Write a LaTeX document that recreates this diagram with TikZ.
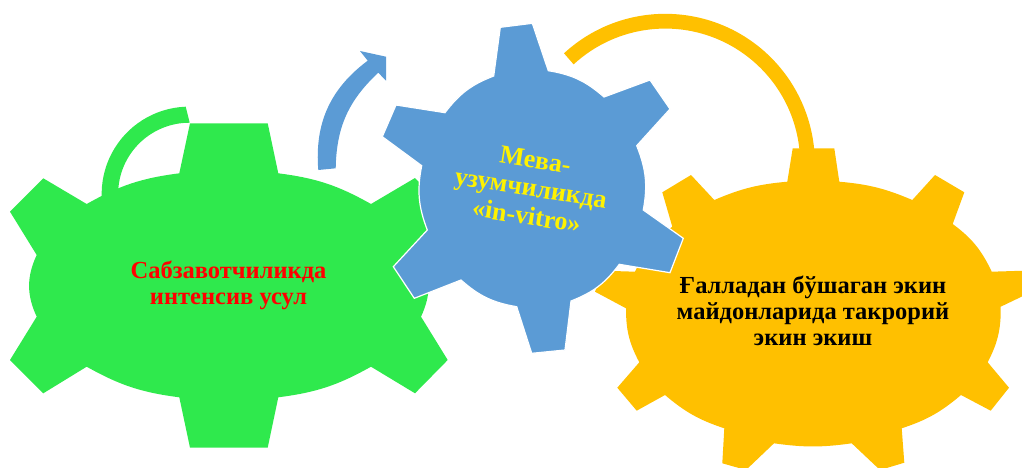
\documentclass[tikz,border=0pt]{standalone}
\usepackage{fontspec}
\setmainfont{Liberation Serif}
\usepackage{xcolor}

\definecolor{gearGreen}{RGB}{47,233,77}
\definecolor{gearBlue}{RGB}{91,155,213}
\definecolor{gearAmber}{RGB}{255,192,0}

\tikzset{
  greengear/.style={fill=gearGreen},
  bluegear/.style={fill=gearBlue, draw=white, line width=1.2pt, line join=miter},
  ambergear/.style={fill=gearAmber},
  geartext/.style={align=center, font=\fontsize{24.5}{26}\selectfont\bfseries},
  bluetext/.style={align=center, font=\fontsize{26}{28.5}\selectfont\bfseries}
}

\begin{document}
\begin{tikzpicture}[x=1pt,y=-1pt]

\clip (0,0) rectangle (1022,468);

% green gear with its arc
\fill[greengear] (185.7,106.7) arc[start angle=92.2, end angle=182.8, radius=87.4pt] -- (125,215) -- (118.3,189.3) arc[start angle=176.2, end angle=89.8, radius=71.3pt] -- cycle;

\fill[greengear] (179.3,173.3) -- (190,123.3) -- (267.7,123.3) -- (278.3,173.3)
  to[bend left=11] (371,204) -- (415,178) -- (447.7,212) -- (421,255)
  to[bend left=25] (421,316.7) -- (447.7,360) -- (415,393.3) -- (371,366.7)
  to[bend left=11] (278.3,397.3) -- (267.7,447.7) -- (190,447.7) -- (179.3,397.3)
  to[bend left=11] (86.7,366.7) -- (43.3,393.3) -- (10,360) -- (36.7,316.7)
  to[bend left=25] (36.7,255) -- (10,211.7) -- (43.3,178.3) -- (86.7,204)
  to[bend left=11] cycle;

\node[geartext, text=red] (greenlabel) at (228.5,285.5) {Сабзавотчиликда\\интенсив усул};

% amber gear with its arc
\fill[ambergear] (564,53.3) arc[start angle=132.6, end angle=5.8, radius=149.6pt] -- (814,155) -- (799.3,155) -- (799.3,148.3) arc[start angle=6.5, end angle=132.7, radius=135pt] -- cycle;

\fill[ambergear] (787.3,181.7) -- (792.7,148.3) -- (834.3,148.3) -- (839.3,181.7)
  to[bend left=9] (912.3,200) -- (935,175) -- (964.3,192.3) -- (952.7,224)
  to[bend left=14] (991.7,271.7) -- (1024,270.7) -- (1032,291.7) -- (1000.7,306.7)
  to[bend left=14] (987.7,362.3) -- (1009,387.7) -- (990.7,410.7) -- (961,395)
  to[bend left=11] (901.7,428.3) -- (904.3,462.7) -- (880,470) -- (851.7,443.3)
  to[bend left=8] (774,443.3) -- (746,470) -- (722.3,463.3) -- (724.3,428.3)
  to[bend left=11] (665,395) -- (636.7,410.7) -- (617.3,387.7) -- (639.3,362.3)
  to[bend left=14] (626,308.3) -- (595,291.7) -- (603.3,270.7) -- (635,271.7)
  to[bend left=14] (672.3,226.7) -- (662.3,192.3) -- (691,175) -- (714.3,200)
  to[bend left=9] cycle;

\node[geartext, text=black] (amberlabel) at (813,311) {Ғалладан бўшаган экин\\майдонларида такрорий\\экин экиш};

% blue gear with its arrow
\fill[fill=gearBlue] (318.3,170) to[bend left=29] (367.7,60.7) -- (360,51) -- (386,56.7) -- (386,80.7) -- (378.3,72.7)
  to[bend right=23] (335.7,168.3) -- cycle;

\draw[bluegear] (445,112.7) to[bend left=16] (493.7,76) -- (500.3,27.3) -- (532.3,23.3) -- (548.3,70.7)
  to[bend left=16] (604,97) -- (650,80) -- (670,109) -- (636.7,145.7)
  to[bend left=16] (643.3,210) -- (683.3,238.3) -- (670,272.7) -- (619.3,264.3)
  to[bend left=16] (571,301) -- (565,350) -- (531.7,353.3) -- (516.7,306.7)
  to[bend left=16] (461,280) -- (414.3,298.3) -- (393.3,266.7) -- (427.3,230)
  to[bend left=16] (421.7,165.7) -- (382.3,136.7) -- (396,105) -- cycle;

\node[bluetext, text=yellow, rotate=-9] (bluelabel) at (531,188) {Мева-\\узумчиликда\\«in-vitro»};

\end{tikzpicture}
\end{document}
